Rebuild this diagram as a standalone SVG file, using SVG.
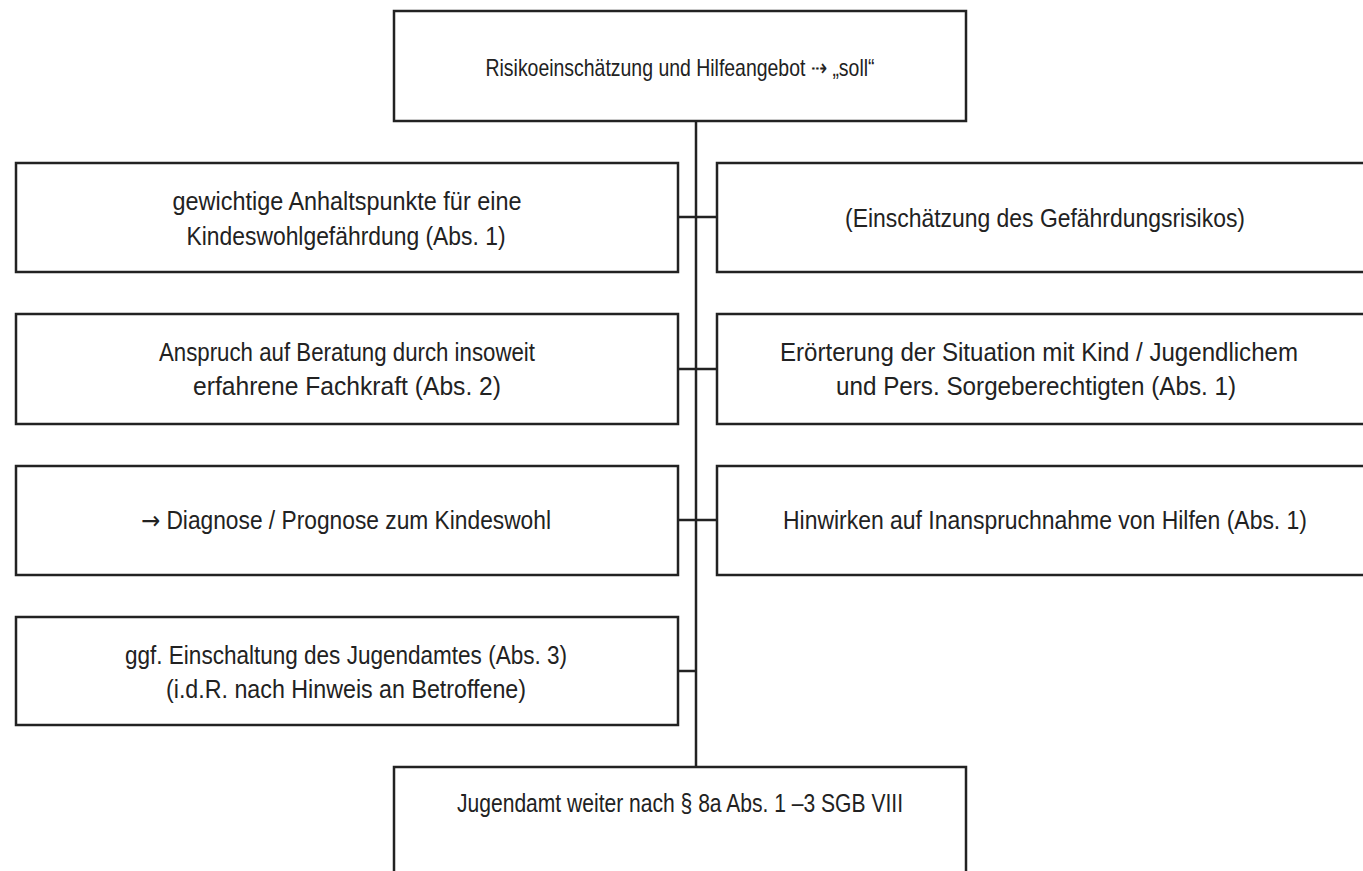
<svg xmlns="http://www.w3.org/2000/svg" width="1363" height="871" viewBox="0 0 1363 871">
<style>
.box{fill:#fff;stroke:#222;stroke-width:2.5}
.ln{stroke:#222;stroke-width:2.5;fill:none}
text{font-family:"Liberation Sans",Arial,sans-serif;font-size:25px;fill:#222;text-anchor:middle;dominant-baseline:central}
.ar{font-family:"DejaVu Sans",sans-serif}
</style>
<rect width="1363" height="871" fill="#fff"/>
<g id="connectors">
<line class="ln" x1="696" y1="121" x2="696" y2="767"/>
<line class="ln" x1="678" y1="217" x2="717" y2="217"/>
<line class="ln" x1="678" y1="369" x2="717" y2="369"/>
<line class="ln" x1="678" y1="520" x2="717" y2="520"/>
<line class="ln" x1="678" y1="671" x2="696" y2="671"/>
</g>
<g id="top"><rect class="box" x="394" y="11" width="572" height="110"/>
<text x="680" y="67" textLength="389" lengthAdjust="spacingAndGlyphs" style="font-size:24px">Risikoeinschätzung und Hilfeangebot ⇢ „soll“</text></g>
<g id="l1"><rect class="box" x="16" y="163" width="662" height="109"/>
<text x="347" y="201" textLength="349" lengthAdjust="spacingAndGlyphs">gewichtige Anhaltspunkte für eine</text>
<text x="346" y="236" textLength="319" lengthAdjust="spacingAndGlyphs">Kindeswohlgefährdung (Abs. 1)</text></g>
<g id="r1"><rect class="box" x="717" y="163" width="660" height="109"/>
<text x="1045" y="218" textLength="400" lengthAdjust="spacingAndGlyphs">(Einschätzung des Gefährdungsrisikos)</text></g>
<g id="l2"><rect class="box" x="16" y="314" width="662" height="110"/>
<text x="347" y="352" textLength="376" lengthAdjust="spacingAndGlyphs">Anspruch auf Beratung durch insoweit</text>
<text x="347" y="386" textLength="308" lengthAdjust="spacingAndGlyphs">erfahrene Fachkraft (Abs. 2)</text></g>
<g id="r2"><rect class="box" x="717" y="314" width="660" height="110"/>
<text x="1039" y="352" textLength="518" lengthAdjust="spacingAndGlyphs">Erörterung der Situation mit Kind / Jugendlichem</text>
<text x="1036" y="386" textLength="400" lengthAdjust="spacingAndGlyphs">und Pers. Sorgeberechtigten (Abs. 1)</text></g>
<g id="l3"><rect class="box" x="16" y="466" width="662" height="109"/>
<text x="346" y="520" textLength="410" lengthAdjust="spacingAndGlyphs"><tspan class="ar">→</tspan> Diagnose / Prognose zum Kindeswohl</text></g>
<g id="r3"><rect class="box" x="717" y="466" width="660" height="109"/>
<text x="1045" y="520" textLength="524" lengthAdjust="spacingAndGlyphs">Hinwirken auf Inanspruchnahme von Hilfen (Abs. 1)</text></g>
<g id="l4"><rect class="box" x="16" y="617" width="662" height="108"/>
<text x="346" y="655" textLength="442" lengthAdjust="spacingAndGlyphs">ggf. Einschaltung des Jugendamtes (Abs. 3)</text>
<text x="346" y="689" textLength="360" lengthAdjust="spacingAndGlyphs">(i.d.R. nach Hinweis an Betroffene)</text></g>
<g id="bottom"><rect class="box" x="394" y="767" width="572" height="120"/>
<text x="680" y="803" textLength="446" lengthAdjust="spacingAndGlyphs">Jugendamt weiter nach § 8a Abs. 1 –3 SGB VIII</text></g>
</svg>
